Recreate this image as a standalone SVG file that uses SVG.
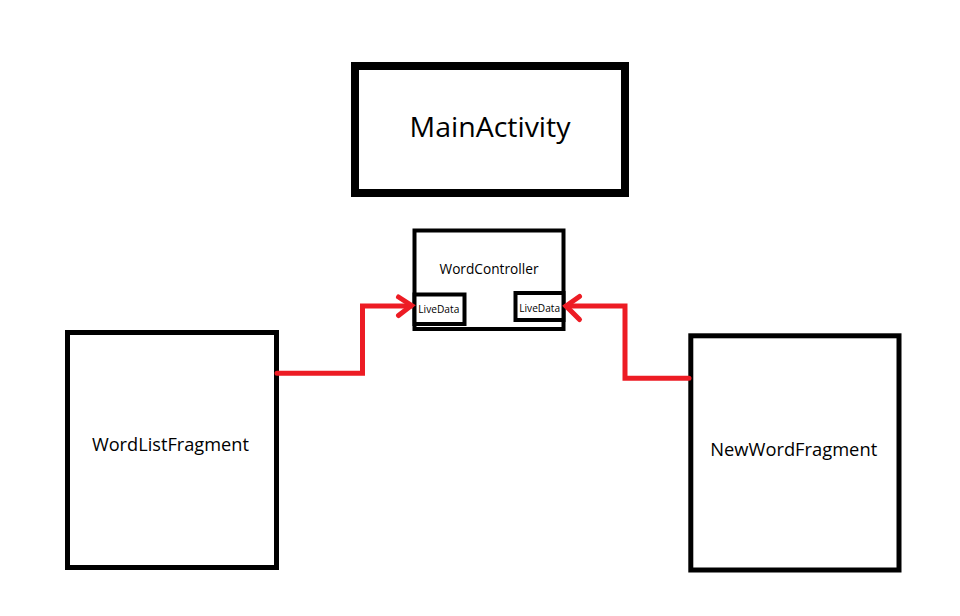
<svg xmlns="http://www.w3.org/2000/svg" width="960" height="616" viewBox="0 0 960 616">
<style>
.box{fill:#fff;stroke:#000}
.txt{font-family:"Open Sans","Liberation Sans",sans-serif;fill:#000}
.conn{fill:none;stroke:#ED1C24;stroke-width:5;stroke-linejoin:miter;stroke-linecap:round}
</style>
<rect width="960" height="616" fill="#fff"/>
<g id="MainActivity">
<rect class="box" x="355" y="66" width="270" height="127" stroke-width="8"/>
<text class="txt" x="490" y="137" font-size="27" text-anchor="middle" textLength="161" lengthAdjust="spacingAndGlyphs">MainActivity</text>
</g>
<g id="WordController">
<rect class="box" x="414.5" y="230.5" width="149" height="98.5" stroke-width="4"/>
<text class="txt" x="489" y="274" font-size="14" text-anchor="middle" textLength="99" lengthAdjust="spacingAndGlyphs">WordController</text>
<g id="LiveDataLeft">
<rect class="box" x="414.5" y="294.5" width="50" height="29.5" stroke-width="4"/>
<text class="txt" x="418.3" y="312.7" font-size="10" textLength="41" lengthAdjust="spacingAndGlyphs">LiveData</text>
</g>
<g id="LiveDataRight">
<rect class="box" x="515.5" y="293" width="48" height="27" stroke-width="4"/>
<text class="txt" x="519.3" y="311.7" font-size="10" textLength="40.7" lengthAdjust="spacingAndGlyphs">LiveData</text>
</g>
</g>
<g id="WordListFragment">
<rect class="box" x="67.5" y="332.5" width="209" height="235" stroke-width="5"/>
<text class="txt" x="170.4" y="450.7" font-size="19" text-anchor="middle" textLength="157" lengthAdjust="spacingAndGlyphs">WordListFragment</text>
</g>
<g id="NewWordFragment">
<rect class="box" x="690.8" y="335.8" width="208.2" height="234.2" stroke-width="5"/>
<text class="txt" x="793.7" y="455.7" font-size="19" text-anchor="middle" textLength="167" lengthAdjust="spacingAndGlyphs">NewWordFragment</text>
</g>
<g id="connectors">
<polyline class="conn" points="277,373.3 362.5,373.3 362.5,306 411,306"/>
<polyline class="conn" points="398.5,297 411.5,305.5 398.5,315.5"/>
<polyline class="conn" points="689,378.3 625,378.3 625,306 566,306"/>
<polyline class="conn" points="579.5,296.5 566,306 579.5,319.5"/>
</g>
</svg>
